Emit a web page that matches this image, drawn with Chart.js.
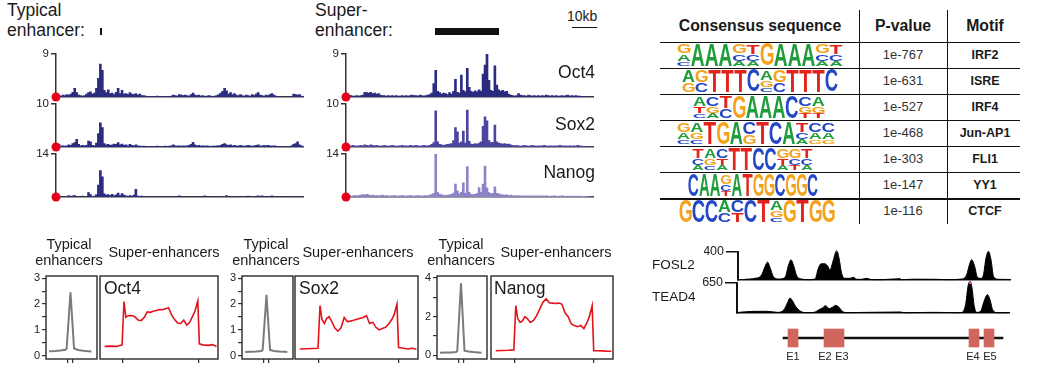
<!DOCTYPE html>
<html><head><meta charset="utf-8">
<script src="https://cdn.jsdelivr.net/npm/chart.js@4.4.1/dist/chart.umd.min.js"></script>
<style>
html,body{margin:0;padding:0;background:#fff}
body{position:relative;width:1038px;height:377px;overflow:hidden;font-family:Arial,"Liberation Sans",Helvetica,sans-serif;color:#1a1a1a}
.t{position:absolute;white-space:nowrap}
.ln{position:absolute;background:#111}
canvas{position:absolute}
</style></head><body>
<script>
/* ── genome tracks: 125 bins of signal, left = typical enhancer, right = super-enhancer ── */
const trackNames=['Oct4','Sox2','Nanog'];
const trackMax=[9,10,14];
const typOct4=[0,0.3,0.2,0.4,0.3, 0.5,0.4,0.6,1.0,1.8, 0.9,0.4,0.3,0.2,0.3, 0.6,0.9,1.1,0.6,0.8, 1.8,3.9,6.9,5.6,1.4, 0.9,1.5,0.7,0.8,0.5, 1.0,1.8,0.7,1.4,0.6, 0.7,0.5,0.9,0.6,0.5, 0.7,0.4,0.6,0.3,0.3, 0.2,0.1,0,0.1,0, 0,0.2,0,0,0.1, 0,0.1,0,0.2,0.4, 0.3,0.2,0.5,0.4,0.3, 0.4,0.3,0.2,0.5,0.8, 0.4,0.3,0.4,0.2,0.3, 0.1,0.2,0.3,0.2,0.1, 0.2,0.3,0.5,0.8,1.2, 1.8,1.3,0.6,0.9,0.5, 0.7,0.4,0.3,0.5,0.3, 0.2,0.4,0.3,0.2,0.5, 0.3,0.6,0.9,0.4,0.3, 0.2,0.4,0.3,0.5,0.7, 0.4,0.2,0,0,0, 0,0,0,0,0, 0.6,0.5,0.4,0.5,0.2];
const typSox2=[0.3,0.6,0.2,0.3,0.2, 0.3,0.5,0.4,0.8,1.0, 1.8,0.6,0.3,0.4,0.3, 0.4,1.4,1.2,0.4,0.3, 0.9,3.1,5.6,4.5,0.8, 0.5,0.6,0.4,0.5,0.7, 0.6,1.0,0.5,0.7,0.4, 0.5,0.3,0.6,0.4,0.3, 0.5,0.3,0.2,0.1,0.2, 0.1,0,0.1,0.1,0, 0.1,0.2,0,0.1,0.1, 0.2,0.1,0.2,0.3,0.5, 0.3,0.2,0.3,0.2,0.3, 0.2,0.3,0.4,0.6,1.1, 0.5,0.3,0.4,0.2,0.3, 0.2,0.3,0.2,0.1,0.2, 0.2,0.3,0.3,0.4,0.6, 0.8,0.5,0.4,0.5,0.3, 0.4,0.3,0.2,0.4,0.3, 0.2,0.3,0.4,0.3,0.2, 0.3,0.4,0.5,0.3,0.2, 0.4,0.3,0.4,0.3,0.2, 0.3,0.2,0.1,0,0, 0,0,0.1,0,0.3, 0.6,0.8,1.2,0.5,0.3];
const typNanog=[0,0,0,0.2,0, 0,0.5,0.2,0.4,0.5, 0,0,0,0.3,0, 0,1.4,0.8,0,0.3, 0.8,3.9,8.6,6.6,1.0, 0.6,0.8,0.5,0.9,0.4, 0.7,1.3,0.5,1.1,0.6, 0.4,0.2,0.5,0.3,0.6, 2.5,0.3,0,0.3,0, 0,0,0,0,0, 0,0,0,0,0, 0,0,0,0,0, 0,0,0.4,0,0, 0,0,0,0,0, 0,0,0,0,0, 0.4,0,0,0,0, 0,0,0,0,0, 0,0.5,0,0,0, 0,0,0,0,0, 0,0,0.3,0,0, 0,0,0.4,0,0.4, 0,0,0,0,0.4, 0,0,0,0,0, 0,0,0,0,0, 0,0,0,0,0];
const supOct4=[0.2,0.2,0.3,0.2,0.2, 0.3,0.2,0.3,0.4,1.0, 0.9,0.8,1.0,0.7,0.8, 0.6,0.7,0.4,0.3,0.3, 0.2,0.3,0.2,0.3,0.2, 0.3,0.2,0.2,0.3,0.2, 0.3,0.2,0.3,0.4,0.3, 0.3,0.2,0.4,0.3,0.2, 0.3,0.4,0.5,0.8,2.8, 5.6,1.2,0.9,0.6,0.8, 0.7,0.5,0.9,0.6,1.2, 3.7,1.0,0.8,4.6,1.4, 1.1,6.0,2.0,1.2,1.0, 1.3,1.1,1.5,1.2,4.8, 6.7,9.3,3.5,1.4,1.2, 6.5,2.5,1.5,1.2,1.4, 1.1,1.2,0.6,0.4,0.3, 0.2,0.3,0.7,0.4,0.3, 0.3,0.2,0.4,0.3,0.2, 0.3,0.2,0.3,0.2,0.3, 0.2,0.4,0.3,0.2,0.3, 0.2,0.3,0.2,0.2,0.3, 0.2,0.3,0.4,0.2,0.3, 0.2,0.3,0.2,0.2,0.1, 0.1,0,0,0,0];
const supSox2=[0.2,0.3,0.2,0.4,0.3, 0.2,0.3,0.4,0.3,0.5, 0.4,0.3,0.5,0.4,0.3, 0.4,0.3,0.2,0.3,0.4, 0.3,0.2,0.3,0.4,0.3, 0.2,0.3,0.3,0.4,0.3, 0.3,0.2,0.4,0.3,0.3, 0.4,0.3,0.2,0.3,0.4, 0.3,0.3,0.4,0.6,1.0, 8.4,1.2,0.6,0.5,0.4, 0.5,0.6,0.7,0.8,1.5, 4.5,3.5,0.9,1.2,3.7, 0.9,8.6,1.3,0.7,0.6, 0.8,0.7,0.9,1.2,4.8, 7.0,6.1,1.5,1.0,1.1, 5.1,1.2,0.9,0.8,0.7, 0.8,0.6,0.7,0.5,0.4, 0.3,0.4,0.3,0.2,0.3, 0.4,0.3,0.2,0.3,0.4, 0.3,0.2,0.3,0.2,0.3, 0.4,0.3,0.2,0.3,0.2, 0.3,0.2,0.3,0.4,0.3, 0.2,0.3,0.2,0.3,0.2, 0.3,0.2,0.4,0.3,0.2, 0.1,0.1,0,0,0];
const supNanog=[0.3,0.4,0.3,0.4,0.5, 0.4,0.5,0.6,0.8,0.6, 0.9,0.7,0.5,0.6,0.4, 0.5,0.4,0.5,0.6,0.4, 0.5,0.4,0.3,0.4,0.5, 0.4,0.3,0.4,0.5,0.4, 0.3,0.4,0.5,0.4,0.3, 0.4,0.5,0.4,0.3,0.4, 0.5,0.4,0.6,0.8,1.2, 14.3,1.5,0.9,0.7,0.6, 0.5,0.6,0.7,0.9,1.3, 4.2,2.0,1.0,1.5,4.6, 1.2,9.9,1.5,0.9,0.8, 0.9,1.2,3.1,1.5,4.2, 10.1,3.0,1.4,1.0,1.2, 3.3,1.2,1.0,0.8,0.7, 0.6,0.7,0.5,0.6,0.5, 0.4,0.5,0.4,0.3,0.4, 0.3,0.4,0.3,0.4,0.3, 0.4,0.3,0.4,0.3,0.4, 0.3,0.4,0.3,0.2,0.3, 0.4,0.3,0.2,0.3,0.4, 0.3,0.2,0.3,0.2,0.3, 0.2,0.3,0.2,0.3,0.2, 0.2,0.1,0.1,0,0];

/* ── metagene profiles ── */
const typX=[-4.2,-3,-2,-1,-0.75,0,0.7,1.5,2.5,3.5,4.1];
const typProfOct4=[0.17,0.18,0.2,0.23,0.28,2.46,0.28,0.22,0.19,0.17,0.16];
const typProfSox2=[0.14,0.15,0.16,0.18,0.22,2.36,0.22,0.18,0.16,0.15,0.14];
const typProfNanog=[0.13,0.14,0.15,0.17,0.22,3.72,0.24,0.2,0.17,0.15,0.13];
const typEdges=[-0.5,0.5];
const seX=[-24,-16,-8,-1,1.5,4,7,10,13,16,20,24,28,32,36,40,44,48,52,56,60,64,68,72,76,80,84,88,92,95,98.5,100.5,105,112,118,123];
const seProfOct4=[0.36,0.37,0.36,0.42,2.1,1.49,1.55,1.56,1.55,1.5,1.38,1.36,1.48,1.7,1.68,1.72,1.75,1.79,1.78,1.82,1.86,1.58,1.4,1.27,1.25,1.38,1.18,1.3,1.55,1.75,2.12,0.46,0.42,0.4,0.43,0.36];
const seProfSox2=[0.26,0.27,0.28,0.29,1.94,1.4,1.25,1.45,1.51,1.35,1.08,0.95,1.08,1.48,1.32,1.34,1.37,1.41,1.45,1.48,1.55,1.25,1.3,1.1,1.0,1.05,1.1,1.23,1.4,1.6,2.0,0.32,0.3,0.26,0.29,0.25];
const seProfNanog=[0.24,0.25,0.26,0.28,2.57,1.9,1.7,1.78,2.0,1.9,1.7,1.8,2.05,2.4,2.75,2.92,2.72,2.7,2.68,2.7,2.65,2.2,2.0,1.62,1.54,1.48,1.55,1.38,1.7,2.0,2.57,0.24,0.24,0.23,0.21,0.21];
const seEdges=[0,100];

/* ── motif table ── */
const motifNames=['IRF2','ISRE','IRF4','Jun-AP1','FLI1','YY1','CTCF'];
const motifP=['1e-767','1e-631','1e-527','1e-468','1e-303','1e-147','1e-116'];
const motifCols=[
  ['GAC','A','A','A','GCA','TCA','G','A','A','A','GCA','TCA'],
  ['AG','GC','T','T','T','C','AGC','GC','T','T','T','C'],
  ['ATC','CGA','TC','G','A','A','A','C','CGT','AGT'],
  ['GAC','AGC','T','G','A','CG','T','C','A','TCA','CAG','CAG'],
  ['TCA','AGC','CTA','T','T','C','C','GTA','GCT','TCA'],
  ['C','A','A','GCT','A','T','G','G','C','G','G','C'],
  ['G','C','C','AC','CT','C','T','AGC','G','T','G','G']
];

/* ── FOSL2 / TEAD4 ChIP tracks and gene model ── */
const fosl2X=[3.5,8.5,11.8,13.5,14.8,16,17.7,20.2,23.5,25.2,26.5,27.8,29.3,31.8,35.2,38.5,40.2,41.5,43.5,44.8,46,47.7,49.3,50.5,51.8,53.5,56,57.7,59.3,61.8,64.3,66.8,71.8,81,81.8,88.5,98.5,105.2,111.8,114.3,115.7,116.8,118.2,119.8,121.5,122.7,124,125.2,126.5,127.8,130.2,136];
const fosl2Y=[10,24,72,193,255,178,48,14,34,207,289,207,63,14,5,14,169,231,231,200,145,289,420,313,96,24,24,39,10,10,24,5,5,19,5,12,10,5,14,72,217,289,207,34,24,72,313,410,289,48,10,8];
const tead4X=[0,8.5,15.2,20.2,23.5,25.2,26.5,27.7,29.3,31.8,35.2,38.5,41,42.7,44.3,46,47.7,49.3,51,52.7,55.2,65,81.8,83.5,98.5,111.8,114.3,115.5,116.5,117.5,118.5,119.8,121.8,123.5,125.2,126.5,127.8,130.2,136];
const tead4Y=[10,36,36,14,72,217,325,267,144,36,7,14,72,108,159,94,123,166,123,36,7,14,22,7,14,7,180,578,686,542,180,14,36,253,397,289,72,7,7];
const intron=[22.5,132.5];
const exonStart=[25,43,115.5,123];
const exonEnd=[30,53,120.5,128];
const exonNames=['E1','E2','E3','E4','E5'];
const exonNamePos=[27.5,43.5,52,117.5,126];

/* ── helpers ── */
Chart.defaults.font.family='Arial, "Liberation Sans", Helvetica, sans-serif';
Chart.defaults.color='#222';
Chart.defaults.animation=false;
Chart.defaults.events=[];
Chart.defaults.plugins.legend.display=false;
Chart.defaults.plugins.tooltip.enabled=false;

function mk(l,t,w,h){
  const c=document.createElement('canvas');
  c.width=w;c.height=h;
  c.style.cssText=`left:${l}px;top:${t}px;width:${w}px;height:${h}px`;
  document.body.appendChild(c);
  return c;
}
function put(text,l,t,css){
  const d=document.createElement('div');
  d.className='t';d.innerHTML=text;
  d.style.cssText=`left:${l}px;top:${t}px;`+(css||'');
  document.body.appendChild(d);return d;
}
function putC(text,cx,t,css){return put(text,cx-100,t,'width:200px;text-align:center;'+(css||''));}
function putR(text,rx,t,css){return put(text,rx-200,t,'width:200px;text-align:right;'+(css||''));}
function bar(l,t,w,h,col){const d=document.createElement('div');d.className='ln';d.style.cssText=`left:${l}px;top:${t}px;width:${w}px;height:${h}px;`+(col?`background:${col}`:'');document.body.appendChild(d);}

const frame={id:'frame',afterDatasetsDraw(ch){
  const a=ch.chartArea,c=ch.ctx;
  c.save();c.strokeStyle='#2a2a2a';c.lineWidth=1.4;
  c.strokeRect(a.left,a.top,a.right-a.left,a.bottom-a.top);c.restore();
}};

/* ── genome track ── */
function track(axisX,top,values,max,color){
  const yw=26,c=mk(axisX-yw,top-10,yw+252,63);
  new Chart(c,{
    type:'bar',
    data:{datasets:[
      {type:'bar',data:values.map((v,i)=>({x:i+0.5,y:v})),backgroundColor:color,barPercentage:1,categoryPercentage:1,order:2},
      {type:'scatter',data:[{x:0,y:0}],pointRadius:4.5,pointBackgroundColor:'#e5001c',pointBorderWidth:0,clip:false,order:1}
    ]},
    options:{responsive:false,devicePixelRatio:1,
      layout:{padding:{top:10,right:1,bottom:10,left:0}},
      scales:{
        x:{type:'linear',min:0,max:125.5,offset:false,ticks:{display:false},grid:{display:false,drawTicks:false,offset:false},border:{color:'#3a3a3a',width:1.5}},
        y:{min:0,max:max,afterFit:s=>{s.width=yw;},afterBuildTicks:s=>{s.ticks=[{value:max}];},
           ticks:{font:{size:11.5},padding:2,color:'#222'},
           grid:{drawOnChartArea:false,tickLength:5,color:'#333',lineWidth:1.5},
           border:{color:'#333',width:1.5}}
      }}
  });
}
const trackTops=[54,104,154];
const typCols=['#2b2b80','#2b2b80','#2b2b80'];
const supCols=['#2b2b80','#4c45a0','#8b85c6'];
[typOct4,typSox2,typNanog].forEach((v,i)=>track(56,trackTops[i],v,trackMax[i],typCols[i]));
[supOct4,supSox2,supNanog].forEach((v,i)=>track(346,trackTops[i],v,trackMax[i],supCols[i]));

put('Typical<br>enhancer:',7,0,'font-size:17.5px;line-height:20px');
bar(99.5,27.5,2.5,7);
put('Super-<br>enhancer:',315,0,'font-size:17.5px;line-height:20px');
bar(435,27.5,64,7);
put('10kb',567,8,'font-size:14px;line-height:16px');
bar(572,26.5,25,1.5);
const nameTops=[61.5,113.5,161.5];
trackNames.forEach((n,i)=>putR(n,595,nameTops[i],'font-size:17.5px;line-height:20px'));

/* ── metagene panels ── */
function metaTyp(boxL,boxW,values,ymin,ymax,ticks,labelled){
  const yw=24,c=mk(boxL-yw,266,yw+boxW+1,103);
  new Chart(c,{type:'line',
    data:{datasets:[{data:typX.map((x,i)=>({x:x,y:values[i]})),borderColor:'#7b7b7b',borderWidth:2,pointRadius:0,tension:0}]},
    options:{responsive:false,devicePixelRatio:1,
      layout:{padding:{top:10,right:1,bottom:6,left:0}},
      scales:{
        x:{type:'linear',min:-4.8,max:5.2,afterBuildTicks:s=>{s.ticks=typEdges.map(v=>({value:v}));},ticks:{display:false},
           grid:{drawOnChartArea:false,tickLength:4,color:'#333',lineWidth:1.2},border:{display:false}},
        y:{min:ymin,max:ymax,afterFit:s=>{s.width=yw;},afterBuildTicks:s=>{s.ticks=ticks.map(v=>({value:v}));},
           ticks:{autoSkip:false,padding:2,font:{size:11},color:'#222',callback:v=>labelled.includes(v)?String(v):''},
           grid:{drawOnChartArea:false,tickLength:4,color:'#333',lineWidth:1.2},border:{display:false}}
      }},
    plugins:[frame]});
}
function metaSup(boxL,boxW,values,ymin,ymax){
  const c=mk(boxL-1,275,boxW+2,90);
  new Chart(c,{type:'line',
    data:{datasets:[{data:seX.map((x,i)=>({x:x,y:values[i]})),borderColor:'#e3131b',borderWidth:1.6,pointRadius:0,tension:0}]},
    options:{responsive:false,devicePixelRatio:1,
      layout:{padding:{top:1,right:1,bottom:2,left:1}},
      scales:{
        x:{type:'linear',min:-30,max:125,afterBuildTicks:s=>{s.ticks=seEdges.map(v=>({value:v}));},ticks:{display:false},
           grid:{drawOnChartArea:false,tickLength:4,color:'#333',lineWidth:1.2},border:{display:false}},
        y:{display:false,min:ymin,max:ymax}
      }},
    plugins:[frame]});
}
const tick3=[0,0.5,1,1.5,2,2.5,3], tick4=[0,1,2,3,4];
metaTyp(46,51,typProfOct4,-0.128,3.089,tick3,[0,1,2,3]);
metaSup(100,118,seProfOct4,-0.128,3.089);
metaTyp(242,51,typProfSox2,-0.128,3.089,tick3,[0,1,2,3]);
metaSup(295,123,seProfSox2,-0.128,3.089);
metaTyp(437,50,typProfNanog,-0.19,4.1,tick4,[0,2,4]);
metaSup(491,122,seProfNanog,-0.19,4.1);

const hdr='font-size:14.5px;line-height:16.5px';
[[69,164],[266,358],[461,556]].forEach(p=>{
  putC('Typical<br>enhancers',p[0],235.5,hdr);
  putC('Super-enhancers',p[1],243.5,hdr);
});
put('Oct4',104,278,'font-size:17.5px;line-height:20px');
put('Sox2',299,278,'font-size:17.5px;line-height:20px');
put('Nanog',494,278,'font-size:17.5px;line-height:20px');

/* ── motif table ── */
const rowTop=i=>41.7+26.1*i;
putC('Consensus sequence',760,17,'font-size:15.8px;line-height:18px;font-weight:bold');
putC('P-value',903,17,'font-size:15.8px;line-height:18px;font-weight:bold');
putC('Motif',985,17,'font-size:15.8px;line-height:18px;font-weight:bold');
bar(858.5,10,1.3,214);
bar(946.5,10,1.3,214);
motifNames.forEach((m,i)=>{
  bar(660,rowTop(i),360,1.3);
  putC(motifP[i],903,rowTop(i),'font-size:13px;line-height:26px;color:#333');
  putC(m,985,rowTop(i),'font-size:12.5px;line-height:26px;font-weight:bold');
});
const baseColor={A:'#1f9d3a',C:'#2447c6',G:'#f4a21c',T:'#e3241c'};
const logoSpan=[[677,843],[682,838],[693,825],[677,835],[692,813],[688,818],[679,835]];
(function(){
  const c=mk(660,40,200,190),ctx=c.getContext('2d');
  ctx.font='bold 100px Arial, "Liberation Sans", sans-serif';
  ctx.textBaseline='alphabetic';
  const split={1:[1],2:[0.55,0.45],3:[0.45,0.33,0.22]};
  function glyph(ch,x,yb,w,h){
    const m=ctx.measureText(ch);
    const asc=m.actualBoundingBoxAscent,desc=m.actualBoundingBoxDescent;
    const gw=m.actualBoundingBoxLeft+m.actualBoundingBoxRight;
    ctx.save();ctx.translate(x,yb);ctx.scale(w/gw,h/(asc+desc));
    ctx.fillStyle=baseColor[ch];ctx.fillText(ch,m.actualBoundingBoxLeft,-desc);ctx.restore();
  }
  motifCols.forEach((cols,r)=>{
    const [l,rt]=logoSpan[r],cw=(rt-l)/cols.length,top=rowTop(r)+2-40,H=22;
    cols.forEach((s,k)=>{
      const fr=split[s.length];let y=top;
      [...s].forEach((ch,j)=>{const h=H*fr[j];glyph(ch,l-660+k*cw+0.4,y+h,cw-0.8,h-0.4);y+=h;});
    });
  });
})();

/* ── FOSL2 / TEAD4 ── */
function peakTrack(axisX,top,h,xs,ys,max,extra){
  const yw=34,c=mk(axisX-yw,top-10,yw+273,h+20);
  const sets=[{data:xs.map((x,i)=>({x:x,y:ys[i]})),borderColor:'#000',backgroundColor:'#000',borderWidth:1,fill:'origin',pointRadius:0,cubicInterpolationMode:'monotone',clip:6,order:2}];
  if(extra)sets.push(extra);
  new Chart(c,{type:'line',data:{datasets:sets},
    options:{responsive:false,devicePixelRatio:1,
      layout:{padding:{top:10,right:1,bottom:10,left:0}},
      scales:{
        x:{type:'linear',min:0,max:136,ticks:{display:false},grid:{display:false,drawTicks:false},border:{color:'#111',width:1.5}},
        y:{min:0,max:max,afterFit:s=>{s.width=yw;},afterBuildTicks:s=>{s.ticks=[{value:max}];},
           ticks:{font:{size:12.5},padding:2,color:'#222'},
           grid:{drawOnChartArea:false,tickLength:12,color:'#111',lineWidth:1.5},border:{color:'#111',width:2}}
      }}
  });
}
peakTrack(738,252,28,fosl2X,fosl2Y,400);
peakTrack(737,283,30,tead4X,tead4Y,650,{data:[{x:116,y:650},{x:117.2,y:650}],borderColor:'#ff33cc',borderWidth:2,pointRadius:0,clip:false,order:1});
put('FOSL2',652,257,'font-size:13.5px;line-height:16px');
put('TEAD4',652,289,'font-size:13.5px;line-height:16px');

const exonText={id:'exonText',afterDatasetsDraw(ch){
  const c=ch.ctx,x=ch.scales.x;
  c.save();c.font='11px Arial, "Liberation Sans", sans-serif';c.fillStyle='#222';c.textAlign='center';c.textBaseline='middle';
  exonNames.forEach((n,i)=>c.fillText(n,x.getPixelForValue(exonNamePos[i]),ch.chartArea.bottom+3.5));
  c.restore();
}};
new Chart(mk(738,323,272,44),{type:'bar',
  data:{labels:['gene'],datasets:[
    {data:[intron],backgroundColor:'#111',barThickness:2,grouped:false,order:2},
    ...exonStart.map((s,i)=>({data:[[s,exonEnd[i]]],backgroundColor:'#d0665e',barThickness:18,grouped:false,order:1}))
  ]},
  options:{responsive:false,devicePixelRatio:1,indexAxis:'y',
    layout:{padding:{top:0,right:0,bottom:14,left:0}},
    scales:{x:{type:'linear',min:0,max:136,display:false},y:{display:false}}},
  plugins:[exonText]});
</script>
</body></html>
